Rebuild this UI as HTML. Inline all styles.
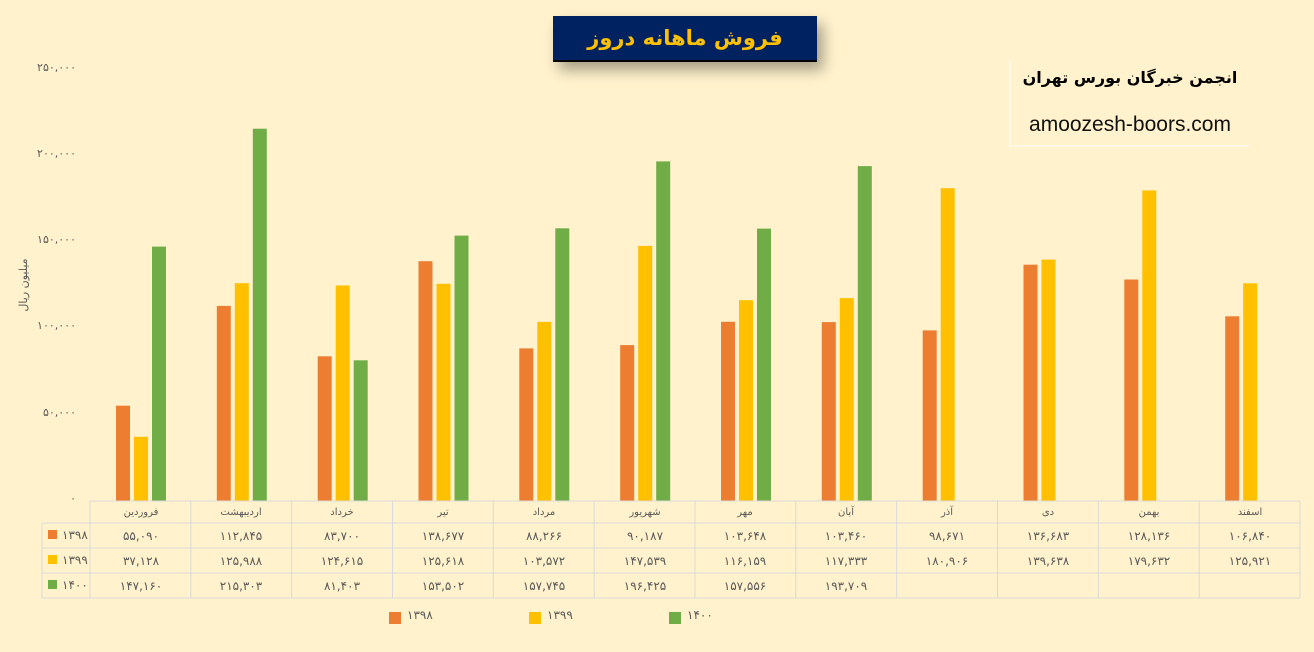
<!DOCTYPE html>
<html><head><meta charset="utf-8">
<style>
html,body{margin:0;padding:0;background:#FFF2CC;}
body{width:1314px;height:647px;overflow:hidden;font-family:"Liberation Sans","Noto Sans CJK SC",sans-serif;}
svg text{font-family:"DejaVu Sans","Liberation Sans",sans-serif;}
</style></head><body>
<svg id="c" width="1314" height="647" xmlns="http://www.w3.org/2000/svg">
<defs><filter id="sh" x="-20%" y="-50%" width="150%" height="220%"><feDropShadow dx="6" dy="8" stdDeviation="7" flood-color="#000" flood-opacity="0.35"/></filter></defs>
<rect width="1314" height="647" fill="#FFF2CC"/>
<rect x="553" y="16" width="264" height="46" fill="#002060" filter="url(#sh)"/>
<rect x="553" y="60" width="264" height="2" fill="#000"/>
<text x="685" y="45" text-anchor="middle" font-size="21" font-weight="bold" fill="#FFC000">فروش ماهانه دروز</text>
<line x1="1010" y1="60" x2="1010" y2="146" stroke="#fff" stroke-width="1"/>
<line x1="1010" y1="146" x2="1250" y2="146" stroke="#fff" stroke-width="1"/>
<text x="1130" y="83" text-anchor="middle" font-size="16" font-weight="bold" fill="#000">انجمن خبرگان بورس تهران</text>
<text x="1130" y="131" text-anchor="middle" font-size="21" fill="#111" style="font-family:'Liberation Sans',sans-serif">amoozesh-boors.com</text>
<g font-size="11" fill="#595959" text-anchor="end">
<text x="76" y="71">۲۵۰,۰۰۰</text>
<text x="76" y="157">۲۰۰,۰۰۰</text>
<text x="76" y="243">۱۵۰,۰۰۰</text>
<text x="76" y="329">۱۰۰,۰۰۰</text>
<text x="76" y="416">۵۰,۰۰۰</text>
<text x="76" y="502">۰</text>
</g>
<text transform="translate(27,285) rotate(-90)" text-anchor="middle" font-size="11" fill="#595959">میلیون ریال</text>
<g id="bars"></g>
<g stroke="#D9D9D9" stroke-width="1" fill="none">
<line x1="90" y1="501" x2="1300" y2="501"/>
<line x1="42" y1="523" x2="1300" y2="523"/>
<line x1="42" y1="548" x2="1300" y2="548"/>
<line x1="42" y1="573" x2="1300" y2="573"/>
<line x1="42" y1="598" x2="1300" y2="598"/>
<line x1="42" y1="523" x2="42" y2="598"/>
<g id="vl"></g>
</g>
<g font-size="10" fill="#595959" text-anchor="middle">
<text x="141" y="515">فروردین</text><text x="241" y="515">اردیبهشت</text><text x="342" y="515">خرداد</text><text x="443" y="515">تیر</text><text x="544" y="515">مرداد</text><text x="645" y="515">شهریور</text><text x="745" y="515">مهر</text><text x="846" y="515">آبان</text><text x="947" y="515">آذر</text><text x="1048" y="515">دی</text><text x="1149" y="515">بهمن</text><text x="1250" y="515">اسفند</text>
</g>
<g font-size="12" fill="#595959" text-anchor="middle">
<text x="141" y="540">۵۵,۰۹۰</text><text x="241" y="540">۱۱۲,۸۴۵</text><text x="342" y="540">۸۳,۷۰۰</text><text x="443" y="540">۱۳۸,۶۷۷</text><text x="544" y="540">۸۸,۲۶۶</text><text x="645" y="540">۹۰,۱۸۷</text><text x="745" y="540">۱۰۳,۶۴۸</text><text x="846" y="540">۱۰۳,۴۶۰</text><text x="947" y="540">۹۸,۶۷۱</text><text x="1048" y="540">۱۳۶,۶۸۳</text><text x="1149" y="540">۱۲۸,۱۳۶</text><text x="1250" y="540">۱۰۶,۸۴۰</text>
<text x="141" y="565">۳۷,۱۲۸</text><text x="241" y="565">۱۲۵,۹۸۸</text><text x="342" y="565">۱۲۴,۶۱۵</text><text x="443" y="565">۱۲۵,۶۱۸</text><text x="544" y="565">۱۰۳,۵۷۲</text><text x="645" y="565">۱۴۷,۵۳۹</text><text x="745" y="565">۱۱۶,۱۵۹</text><text x="846" y="565">۱۱۷,۳۳۳</text><text x="947" y="565">۱۸۰,۹۰۶</text><text x="1048" y="565">۱۳۹,۶۳۸</text><text x="1149" y="565">۱۷۹,۶۳۲</text><text x="1250" y="565">۱۲۵,۹۲۱</text>
<text x="141" y="590">۱۴۷,۱۶۰</text><text x="241" y="590">۲۱۵,۳۰۳</text><text x="342" y="590">۸۱,۴۰۳</text><text x="443" y="590">۱۵۳,۵۰۲</text><text x="544" y="590">۱۵۷,۷۴۵</text><text x="645" y="590">۱۹۶,۴۲۵</text><text x="745" y="590">۱۵۷,۵۵۶</text><text x="846" y="590">۱۹۳,۷۰۹</text>
</g>
<rect x="48" y="530" width="9" height="9" fill="#ED7D31"/><text x="62" y="539" font-size="12" fill="#595959">۱۳۹۸</text>
<rect x="48" y="555" width="9" height="9" fill="#FFC000"/><text x="62" y="564" font-size="12" fill="#595959">۱۳۹۹</text>
<rect x="48" y="580" width="9" height="9" fill="#70AD47"/><text x="62" y="589" font-size="12" fill="#595959">۱۴۰۰</text>
<rect x="389" y="612" width="12" height="12" fill="#ED7D31"/><text x="407" y="619" font-size="12" fill="#595959">۱۳۹۸</text>
<rect x="529" y="612" width="12" height="12" fill="#FFC000"/><text x="547" y="619" font-size="12" fill="#595959">۱۳۹۹</text>
<rect x="669" y="612" width="12" height="12" fill="#70AD47"/><text x="687" y="619" font-size="12" fill="#595959">۱۴۰۰</text>
</svg>
<script>
var d=[[55090,112845,83700,138677,88266,90187,103648,103460,98671,136683,128136,106840],
[37128,125988,124615,125618,103572,147539,116159,117333,180906,139638,179632,125921],
[147160,215303,81403,153502,157745,196425,157556,193709]];
var col=["#ED7D31","#FFC000","#70AD47"],off=[26,44,62],cw=(1300-90)/12,s="",v="";
for(var k=0;k<3;k++)for(var i=0;i<d[k].length;i++){var h=d[k][i]*0.001729;
s+='<rect x="'+(90+i*cw+off[k]).toFixed(1)+'" y="'+(501-h).toFixed(1)+'" width="14" height="'+h.toFixed(1)+'" fill="'+col[k]+'"/>';}
for(var i=0;i<=12;i++){var x=(90+i*cw).toFixed(1);v+='<line x1="'+x+'" y1="501" x2="'+x+'" y2="598"/>';}
document.getElementById("bars").innerHTML=s;document.getElementById("vl").innerHTML=v;
</script>
</body></html>
